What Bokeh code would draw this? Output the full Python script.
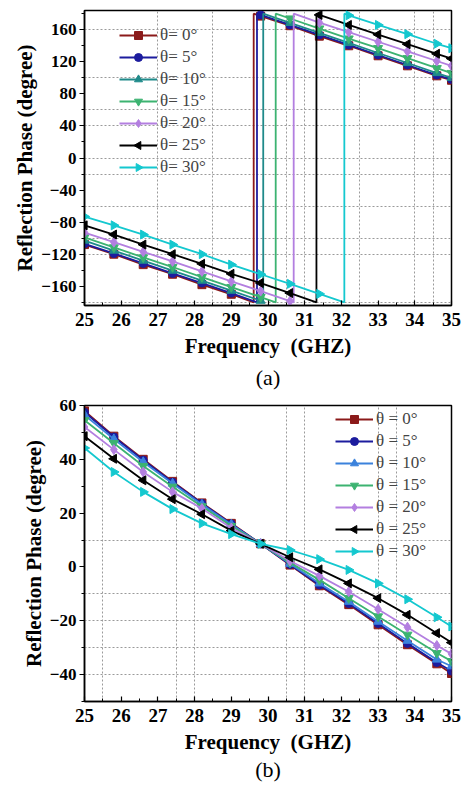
import math
from bokeh.plotting import figure
from bokeh.layouts import column
from bokeh.models import (Legend, LegendItem, FixedTicker, SingleIntervalTicker,
                          Title, Range1d)
from bokeh.embed import file_html
from bokeh.resources import INLINE

# ---------------- data ----------------
freq = [25.0, 25.8, 26.6, 27.4, 28.2, 29.0, 29.8, 30.6, 31.4, 32.2, 33.0, 33.8, 34.6, 35.0]

labels_a = ["θ= 0°", "θ= 5°", "θ= 10°", "θ= 15°", "θ= 20°", "θ= 25°", "θ= 30°"]
labels_b = ["θ = 0°", "θ = 5°", "θ = 10°", "θ = 15°", "θ = 20°", "θ = 25°", "θ = 30°"]

# panel (a): wrapped reflection phase (degree)
phase_a_0 = [-108, -120, -133, -145, -158, -170, 177, 165, 152, 140, 127.5, 115, 102.5, 97]
phase_a_5 = [-107, -119, -131.5, -144, -156, -168.5, 178.5, 166, 153.5, 141, 128.5, 116, 103.5, 98]
phase_a_10 = [-103, -115.5, -128, -140.5, -153, -165.5, -178, 168.5, 156, 143.5, 131, 118.5, 106, 100]
phase_a_15 = [-99, -111.5, -124, -136, -148.5, -161, -173.5, 174, 161.5, 149, 137, 124.5, 112, 106]
phase_a_20 = [-93, -105, -117, -129, -141.5, -154, -166, -178.5, 169, 157, 145, 133, 121, 115]
phase_a_25 = [-84, -95.5, -108, -120, -132, -144.5, -156, -168.5, 178.5, 166, 154, 142, 130, 124]
phase_a_30 = [-73, -84, -95.5, -108, -120, -133, -145, -157, -169.5, 178, 166, 154.5, 142.5, 137]
wrap_a = [29.61, 29.70, 29.87, 30.21, 30.70, 31.32, 32.08]

# panel (b): reflection phase (degree)
phase_b_0 = [58, 48.6, 40, 31.8, 23.8, 16.2, 8.6, 0.7, -7, -14, -21.5, -28.9, -36, -39.6]
phase_b_5 = [57.5, 48.3, 39.7, 31.5, 23.6, 16, 8.6, 0.9, -6.7, -13.6, -21, -28.4, -35.5, -38.7]
phase_b_10 = [56.5, 47.5, 39, 31, 23.2, 15.8, 8.6, 1.2, -6.1, -12.9, -20.3, -27.4, -34.4, -36.9]
phase_b_15 = [54.5, 46, 37.5, 29.8, 22.5, 15.2, 8.6, 1.6, -4.8, -11.6, -18.4, -25.2, -32, -35]
phase_b_20 = [52, 43.6, 35.3, 27.9, 21.7, 14.5, 8.6, 2.2, -3.3, -9.2, -15.7, -22.4, -29.2, -32.3]
phase_b_25 = [48.6, 40.2, 32.2, 25.2, 19.6, 13.5, 8.6, 3.6, -0.9, -6.1, -11.6, -17.8, -24.6, -28.1]
phase_b_30 = [44.2, 35.3, 27.9, 21.5, 16.2, 12.2, 8.6, 6.3, 2.9, -1.1, -6.1, -12, -18.7, -22.1]

series_a = [phase_a_0, phase_a_5, phase_a_10, phase_a_15, phase_a_20, phase_a_25, phase_a_30]
series_b = [phase_b_0, phase_b_5, phase_b_10, phase_b_15, phase_b_20, phase_b_25, phase_b_30]

yticks_a = [-160, -120, -80, -40, 0, 40, 80, 120, 160]
yticks_b = [-40, -20, 0, 20, 40, 60]

x_label = "Frequency\u00a0 (GHZ)"
y_label = "Reflection Phase (degree)"

# ---------------- style ----------------
colors_a = ["#8b1a1a", "#1c1c9e", "#1f8a8a", "#3cb371", "#b37fe0", "#000000", "#14c8cf"]
colors_b = ["#8b1a1a", "#1c1c9e", "#3b82dc", "#3cb371", "#b37fe0", "#000000", "#14c8cf"]
markers = ["square", "circle", "triangle", "inverted_triangle", "diamond", "triangle", "triangle"]
angles = [0, 0, 0, 0, 0, math.pi / 2, -math.pi / 2]
msizes = [8, 8, 9, 9, 10, 9, 9]

SERIF = "Liberation Serif"
FW = 367                      # frame width (px)
GLYPH_W, ROW_H, ROW_GAP = 38, 20, 2


def style(p, yticks, yminor, xgrid, ygrid):
    p.outline_line_color = "black"
    p.outline_line_width = 1.5
    p.outline_line_alpha = 1
    p.background_fill_color = "white"
    p.border_fill_color = "white"
    p.xaxis.ticker = SingleIntervalTicker(interval=1, num_minor_ticks=2)
    p.yaxis.ticker = FixedTicker(ticks=yticks, minor_ticks=yminor)
    for ax in (p.xaxis[0], p.yaxis[0]):
        ax.axis_line_width = 1.5
        ax.major_tick_line_width = 1.2
        ax.minor_tick_line_width = 1
        ax.major_label_text_font = SERIF
        ax.major_label_text_font_style = "bold"
        ax.major_label_text_color = "black"
        ax.axis_label_text_font = SERIF
        ax.axis_label_text_font_style = "bold"
        ax.axis_label_text_font_size = "21px"
        ax.axis_label_text_color = "black"
    p.xaxis.major_label_text_font_size = "19px"
    p.yaxis.major_label_text_font_size = "17px"
    p.xaxis.major_tick_in = 5
    p.xaxis.major_tick_out = 0
    p.xaxis.minor_tick_in = 3
    p.xaxis.minor_tick_out = 0
    p.yaxis.major_tick_in = 0
    p.yaxis.major_tick_out = 5
    p.yaxis.minor_tick_in = 0
    p.yaxis.minor_tick_out = 3
    p.xaxis.major_label_standoff = 7
    p.yaxis.major_label_standoff = 3
    p.xaxis.axis_label_standoff = 5
    p.yaxis.axis_label_standoff = 1
    p.xaxis.axis_label = x_label
    p.yaxis.axis_label = y_label
    p.xgrid.ticker = FixedTicker(ticks=xgrid)
    p.ygrid.ticker = FixedTicker(ticks=ygrid)
    for g in (p.xgrid[0], p.ygrid[0]):
        g.grid_line_color = "#9a9a9a"
        g.grid_line_dash = "2 2"
        g.grid_line_width = 1


def wrapped_line(xs, ys, wrap):
    lx, ly = [], []
    for i, (x, y) in enumerate(zip(xs, ys)):
        if i > 0 and xs[i - 1] < wrap <= x:
            lx += [wrap, wrap]
            ly += [-180, 180]
        lx.append(x)
        ly.append(y)
    return lx, ly


def caption(text, standoff, valign="bottom"):
    return Title(text=text, align="center", text_font=SERIF, text_font_size="22px",
                 text_font_style="normal", text_color="black", offset=-10,
                 standoff=standoff, vertical_align=valign)


def build_panel(p, series, labels, colors, loc, fh, wraps=None):
    """Draw the series and a legend; rotated markers in the legend are overlaid
    (Bokeh's legend draws markers unrotated)."""
    items = []
    n = len(series)
    legend_h = n * ROW_H + (n - 1) * ROW_GAP
    xr, yr = p.x_range, p.y_range
    for k in range(n):
        if wraps is not None:
            lx, ly = wrapped_line(freq, series[k], wraps[k])
        else:
            lx, ly = freq, series[k]
        r1 = p.line(lx, ly, line_color=colors[k], line_width=1.8)
        r2 = p.scatter(freq, series[k], marker=markers[k], angle=angles[k], size=msizes[k],
                       fill_color=colors[k], line_color=colors[k])
        if angles[k] == 0:
            items.append(LegendItem(label=labels[k], renderers=[r1, r2]))
        else:
            items.append(LegendItem(label=labels[k], renderers=[r1]))
            # legend glyph centre, converted from legend layout (px) to data units
            px = loc[0] + GLYPH_W / 2
            py = loc[1] + legend_h - (k * (ROW_H + ROW_GAP) + ROW_H / 2)
            gx = xr.start + px * (xr.end - xr.start) / FW
            gy = yr.start + py * (yr.end - yr.start) / fh
            p.scatter([gx], [gy], marker=markers[k], angle=angles[k], size=8,
                      fill_color=colors[k], line_color=colors[k], level="overlay")
    leg = Legend(items=items, location=loc, padding=0, margin=0, spacing=ROW_GAP,
                 glyph_width=GLYPH_W, glyph_height=ROW_H, label_height=ROW_H, label_standoff=3,
                 label_text_font=SERIF, label_text_font_size="17px",
                 background_fill_alpha=0, border_line_alpha=0)
    p.add_layout(leg, "center")


# ---------------- panel (a) ----------------
pa = figure(frame_width=FW, frame_height=295, x_range=Range1d(25, 35),
            y_range=Range1d(-184, 184), output_backend="svg", toolbar_location=None,
            min_border_top=10, min_border_left=84, min_border_right=15, min_border_bottom=60)
style(pa, yticks_a, [-180, -140, -100, -60, -20, 20, 60, 100, 140, 180],
      [27, 28.5, 30.5, 31, 32.5, 34, 34.5], [160, 100, 60, 40, 0, -20, -60, -100, -120, -180])
build_panel(pa, series_a, labels_a, colors_a, (35, 128), 295, wraps=wrap_a)
pa.add_layout(caption("(a)", 4), "below")

# ---------------- panel (b) ----------------
pb = figure(frame_width=FW, frame_height=296, x_range=Range1d(25, 35),
            y_range=Range1d(-50, 60), output_backend="svg", toolbar_location=None,
            min_border_top=14, min_border_left=84, min_border_right=15, min_border_bottom=82)
style(pb, yticks_b, [-50, -30, -10, 10, 30, 50],
      [25.5, 27.5, 28, 30.5, 31, 33, 33.5], [10, -10, -20, -30, -40])
build_panel(pb, series_b, labels_b, colors_b, (251, 140), 296)
pb.add_layout(caption("(b)", 0, "top"), "below")

layout = column(pa, pb, spacing=0)
open("out.html", "w").write(file_html(layout, INLINE))
